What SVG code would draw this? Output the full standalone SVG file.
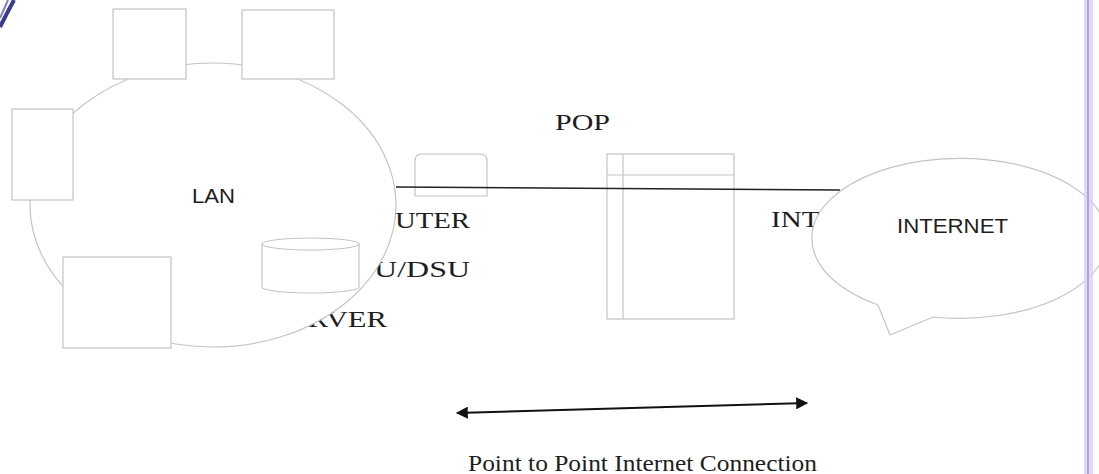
<svg xmlns="http://www.w3.org/2000/svg" width="1099" height="474" viewBox="0 0 1099 474">
  <style>
    .shape { fill: #ffffff; stroke: #c4c4c4; stroke-width: 1.2; }
    .thin { fill: none; stroke: #c4c4c4; stroke-width: 1.2; }
    .serif { font-family: "Liberation Serif", "DejaVu Serif", serif; font-size: 24px; fill: #1e1e1e; }
    .sans { font-family: "Liberation Sans", Arial, sans-serif; font-size: 21px; fill: #1e1e1e; }
    .conn { fill: none; stroke: #222222; stroke-width: 1.4; }
    .arrow { fill: none; stroke: #111111; stroke-width: 2; }
  </style>
  <defs>
    <marker id="ah" viewBox="0 0 10 10" refX="9" refY="5" markerWidth="8" markerHeight="6" markerUnits="strokeWidth" orient="auto-start-reverse">
      <path d="M0,0 L10,5 L0,10 Z" fill="#111111"/>
    </marker>
  </defs>
  <rect x="0" y="0" width="1099" height="474" fill="#ffffff"/>

  <!-- scan decoration top-left -->
  <path d="M0,27 Q7,13 14,0" fill="none" stroke="#3b3b8f" stroke-width="4"/>
  <path d="M0,18 Q4,9 8,0" fill="none" stroke="#8080c0" stroke-width="2"/>

  <!-- labels partially hidden behind shapes -->
  <g id="labels-behind">
    <text class="serif" x="355" y="228" textLength="115" lengthAdjust="spacingAndGlyphs">ROUTER</text>
    <text class="serif" x="335" y="277" textLength="135" lengthAdjust="spacingAndGlyphs">CSU/DSU</text>
    <text class="serif" x="272" y="327" textLength="115" lengthAdjust="spacingAndGlyphs">SERVER</text>
    <text class="serif" x="771" y="227" textLength="142" lengthAdjust="spacingAndGlyphs">INTERNET</text>
  </g>

  <g id="router">
    <path class="thin" d="M415,196 L415,161 Q415,154 422,154 L480,154 Q487,154 487,161 L487,196 Z"/>
  </g>

  <g id="pop">
    <rect class="thin" x="607" y="154" width="127" height="165"/>
    <line class="thin" x1="623" y1="154" x2="623" y2="319"/>
    <line class="thin" x1="607" y1="175" x2="734" y2="175"/>
    <text class="serif" x="555" y="130" font-size="25" textLength="55" lengthAdjust="spacingAndGlyphs">POP</text>
  </g>

  <g id="connectors">
    <line class="conn" x1="396" y1="187" x2="840" y2="190"/>
    <line class="arrow" x1="457" y1="413" x2="807" y2="403" marker-start="url(#ah)" marker-end="url(#ah)"/>
  </g>

  <g id="lan">
    <ellipse class="shape" cx="213" cy="205" rx="183" ry="142"/>
    <text class="sans" x="192" y="203" textLength="43" lengthAdjust="spacingAndGlyphs">LAN</text>
  </g>

  <g id="pc1"><rect class="shape" x="113" y="9" width="73" height="70"/></g>
  <g id="pc2"><rect class="shape" x="242" y="10" width="92" height="69"/></g>
  <g id="pc3"><rect class="shape" x="12" y="109" width="61" height="91"/></g>
  <g id="pc4"><rect class="shape" x="63" y="257" width="108" height="91"/></g>
  <g id="server">
    <path class="shape" d="M262,244 L262,287 A48.5,6 0 0 0 359,287 L359,244 Z"/>
    <ellipse class="shape" cx="310.5" cy="244" rx="48.5" ry="6"/>
  </g>

  <g id="internet">
    <path class="shape" d="M878,305 L890,335 L933,317 A148,80 0 1 0 878,305 Z"/>
    <text class="sans" x="897" y="233" textLength="111" lengthAdjust="spacingAndGlyphs">INTERNET</text>
  </g>

  <g id="caption">
    <text class="serif" x="468" y="471" font-size="21" textLength="349" lengthAdjust="spacingAndGlyphs">Point to Point Internet Connection</text>
  </g>

  <!-- page margin line on the right -->
  <rect x="1084" y="0" width="9" height="474" fill="#d9cbf3" opacity="0.75"/>
  <line x1="1088" y1="0" x2="1088" y2="474" stroke="#b3a2e3" stroke-width="2"/>
</svg>
